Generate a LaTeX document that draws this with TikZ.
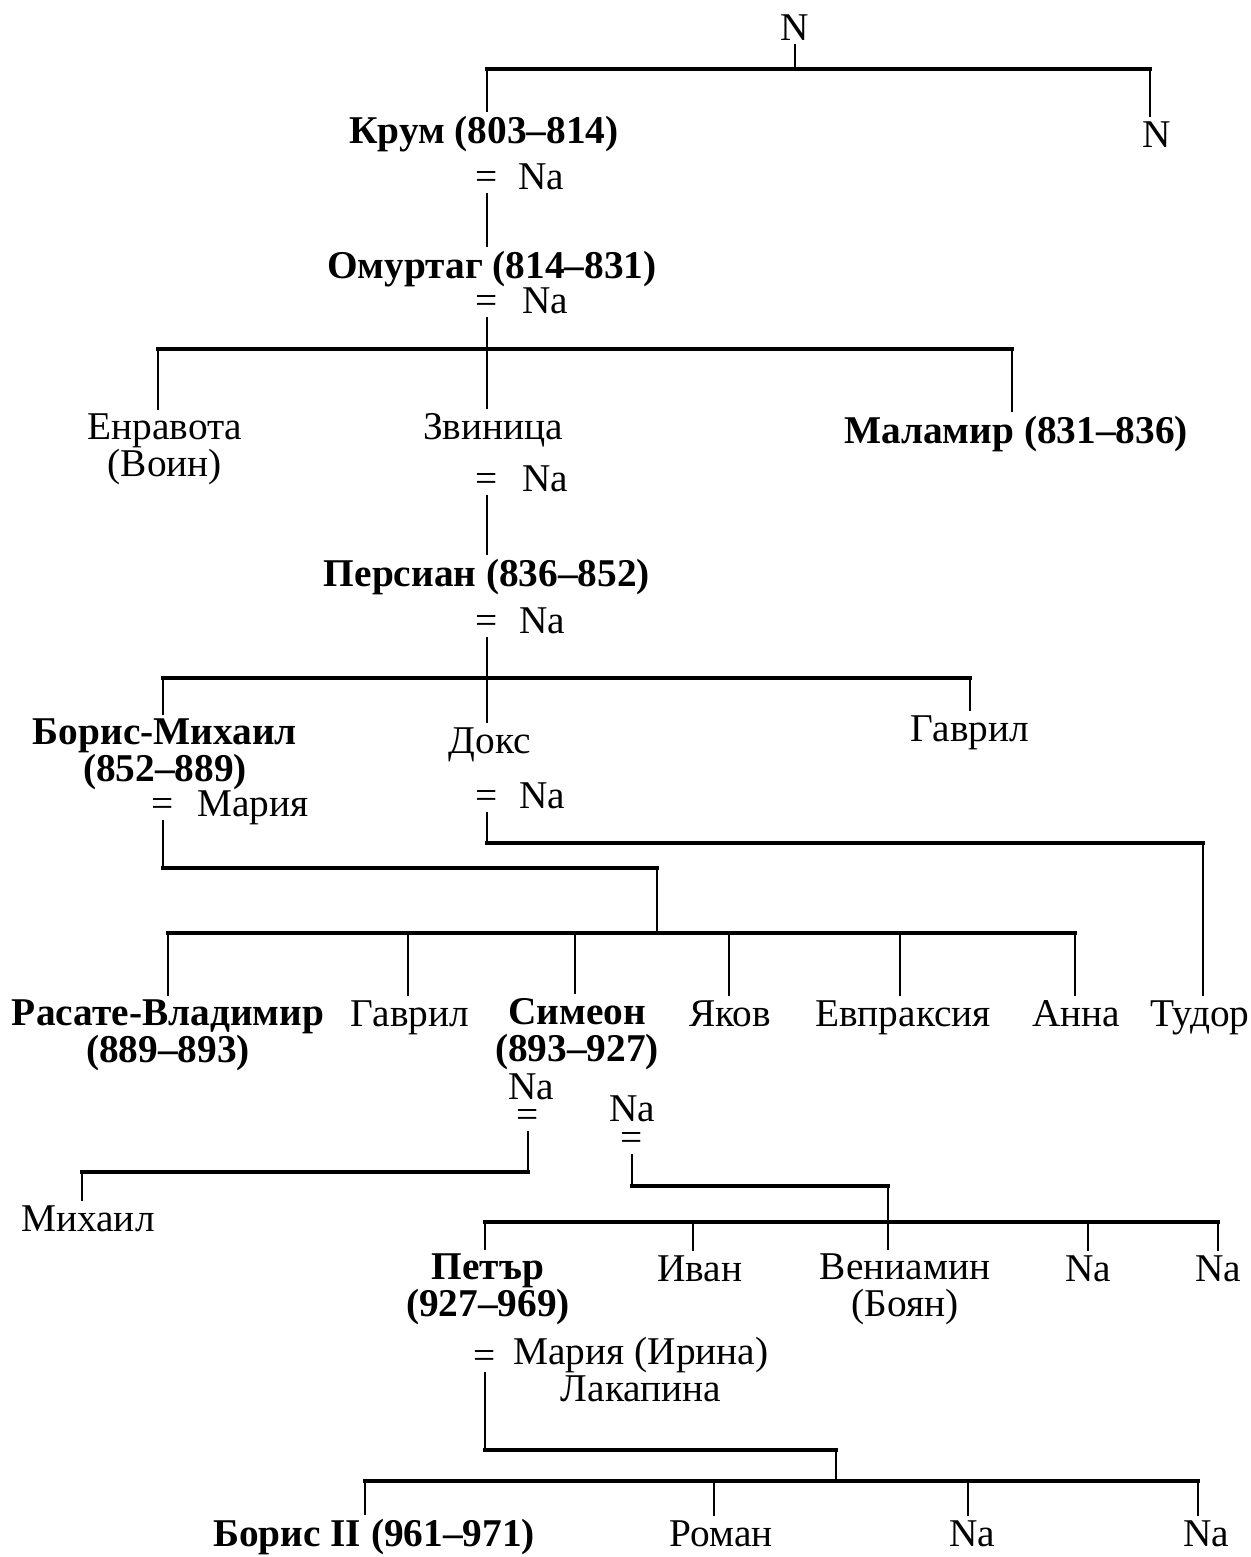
\documentclass[tikz,border=0pt]{standalone}
\usepackage{fontspec}
\setmainfont{Liberation Serif}
\begin{document}
\begin{tikzpicture}[x=0.75pt,y=-0.75pt,
  lbl/.style={inner sep=0pt,outer sep=3pt,anchor=base,align=center,font=\fontsize{29.5}{27.5}\selectfont},
  blbl/.style={lbl,font=\fontsize{29.5}{27.5}\selectfont\bfseries},
  stem/.style={line width=2pt},
  barline/.style={line width=3.2pt,line cap=rect}]
\useasboundingbox (0,0) rectangle (1250,1557);
% ---------- nodes (two-line nodes are placed by their last baseline) ----------
\node[lbl] (n0) at (795,40) {N};
\node[lbl] (n1) at (1157,147) {N};
\node[blbl] (krum) at (484,143) {Крум (803–814)};
\node[lbl] (eqK) at (487,189) {=};
\node[lbl] (naK) at (541,189) {Na};
\node[blbl] (omur) at (492,278) {Омуртаг (814–831)};
\node[lbl] (eqO) at (487,313) {=};
\node[lbl] (naO) at (545,313) {Na};
\node[lbl] (enr) at (165,476) {Енравота\\(Воин)};
\node[lbl] (zvin) at (493,439) {Звиница};
\node[blbl] (malam) at (1016,443) {Маламир (831–836)};
\node[lbl] (eqZ) at (487,491) {=};
\node[lbl] (naZ) at (545,491) {Na};
\node[blbl] (pers) at (487,586) {Персиан (836–852)};
\node[lbl] (eqP) at (487,633) {=};
\node[lbl] (naP) at (542,633) {Na};
\node[blbl] (boris) at (165,781) {Борис-Михаил\\(852–889)};
\node[lbl] (doks) at (490,753) {Докс};
\node[lbl] (gavr1) at (970,741) {Гаврил};
\node[lbl] (eqB) at (163,816) {=};
\node[lbl] (mariaB) at (253,816) {Мария};
\node[lbl] (eqD) at (487,808) {=};
\node[lbl] (naD) at (542,808) {Na};
\node[blbl] (rasate) at (168,1062) {Расате-Владимир\\(889–893)};
\node[lbl] (gavr2) at (410,1026) {Гаврил};
\node[blbl] (simeon) at (577,1061) {Симеон\\(893–927)};
\node[lbl] (yakov) at (730,1026) {Яков};
\node[lbl] (evpr) at (903,1026) {Евпраксия};
\node[lbl] (anna) at (1076,1026) {Анна};
\node[lbl] (tudor) at (1200,1026) {Тудор};
\node[lbl] (naS1) at (531,1099) {Na};
\node[lbl] (eqS1) at (528,1127) {=};
\node[lbl] (naS2) at (632,1121) {Na};
\node[lbl] (eqS2) at (632,1150) {=};
\node[lbl] (mihail) at (88,1231) {Михаил};
\node[blbl] (petar) at (488,1316) {Петър\\(927–969)};
\node[lbl] (ivan) at (700,1281) {Иван};
\node[lbl] (veni) at (905,1316) {Вениамин\\(Боян)};
\node[lbl] (naV1) at (1088,1281) {Na};
\node[lbl] (naV2) at (1218,1281) {Na};
\node[lbl] (eqPt) at (485,1368) {=};
\node[lbl] (mariaI) at (641,1401) {Мария (Ирина)\\Лакапина};
\node[blbl] (borisII) at (374,1546) {Борис II (961–971)};
\node[lbl] (roman) at (721,1546) {Роман};
\node[lbl] (naB1) at (972,1546) {Na};
\node[lbl] (naB2) at (1206,1546) {Na};
% ---------- coordinates ----------
\coordinate (b1a) at (487,69);   \coordinate (b1b) at (1150,69);
\coordinate (b3a) at (158,349);  \coordinate (b3b) at (1012,349);
\coordinate (b5a) at (163,678);  \coordinate (b5b) at (970,678);
\coordinate (j6a) at (163,868);  \coordinate (j6b) at (657,868);
\coordinate (b6a) at (168,933);  \coordinate (b6b) at (1075,933);
\coordinate (d6b) at (408,933);  \coordinate (d6c) at (575,933);
\coordinate (d6d) at (729,933);  \coordinate (d6e) at (900,933);
\coordinate (j7) at (1203,843);
\coordinate (j8) at (82,1172);
\coordinate (j9) at (888,1186);
\coordinate (b9a) at (485,1222); \coordinate (b9b) at (1218,1222);
\coordinate (d9b) at (693,1222); \coordinate (d9d) at (1088,1222);
\coordinate (j10) at (836,1450);
\coordinate (b10a) at (365,1481); \coordinate (b10b) at (1198,1481);
\coordinate (d10b) at (714,1481); \coordinate (d10c) at (968,1481);
% ---------- connectors ----------
% generation 0
\draw[stem] (n0.south) -- (n0.south |- b1a);
\draw[barline] (b1a) -- (b1b);
\draw[stem] (b1a) -- (b1a |- krum.north);
\draw[stem] (b1b) -- (b1b |- n1.north);
% Krum -> Omurtag
\draw[stem] (eqK.south) -- (eqK.south |- omur.north);
% Omurtag -> children
\draw[stem] (eqO.south) -- (eqO.south |- zvin.north);
\draw[barline] (b3a) -- (b3b);
\draw[stem] (b3a) -- (b3a |- enr.north);
\draw[stem] (b3b) -- (b3b |- malam.north);
% Zvinitsa -> Persian
\draw[stem] (eqZ.south) -- (eqZ.south |- pers.north);
% Persian -> children
\draw[stem] (eqP.south) -- (eqP.south |- doks.north);
\draw[barline] (b5a) -- (b5b);
\draw[stem] (b5a) -- (b5a |- boris.north);
\draw[stem] (b5b) -- (b5b |- gavr1.north);
% Boris-Mihail -> children
\draw[stem] (eqB.south) -- (eqB.south |- j6a);
\draw[barline] (eqB.south |- j6a) -- (j6b);
\draw[stem] (j6b) -- (j6b |- b6a);
\draw[barline] (b6a) -- (b6b);
\draw[stem] (b6a) -- (b6a |- rasate.north);
\draw[stem] (d6b) -- (d6b |- gavr2.north);
\draw[stem] (d6c) -- (d6c |- simeon.north);
\draw[stem] (d6d) -- (d6d |- yakov.north);
\draw[stem] (d6e) -- (d6e |- evpr.north);
\draw[stem] (b6b) -- (b6b |- anna.north);
% Doks -> Tudor
\draw[stem] (eqD.south) -- (eqD.south |- j7);
\draw[barline] (eqD.south |- j7) -- (j7);
\draw[stem] (j7) -- (j7 |- tudor.north);
% Simeon -> Mihail
\draw[stem] (eqS1.south) -- (eqS1.south |- j8);
\draw[barline] (eqS1.south |- j8) -- (j8);
\draw[stem] (j8) -- (j8 |- mihail.north);
% Simeon -> children
\draw[stem] (eqS2.south) -- (eqS2.south |- j9);
\draw[barline] (eqS2.south |- j9) -- (j9);
\draw[stem] (j9) -- (j9 |- veni.north);
\draw[barline] (b9a) -- (b9b);
\draw[stem] (b9a) -- (b9a |- petar.north);
\draw[stem] (d9b) -- (d9b |- ivan.north);
\draw[stem] (d9d) -- (d9d |- naV1.north);
\draw[stem] (b9b) -- (b9b |- naV2.north);
% Petar -> children
\draw[stem] (eqPt.south) -- (eqPt.south |- j10);
\draw[barline] (eqPt.south |- j10) -- (j10);
\draw[stem] (j10) -- (j10 |- b10a);
\draw[barline] (b10a) -- (b10b);
\draw[stem] (b10a) -- (b10a |- borisII.north);
\draw[stem] (d10b) -- (d10b |- roman.north);
\draw[stem] (d10c) -- (d10c |- naB1.north);
\draw[stem] (b10b) -- (b10b |- naB2.north);
\end{tikzpicture}
\end{document}
